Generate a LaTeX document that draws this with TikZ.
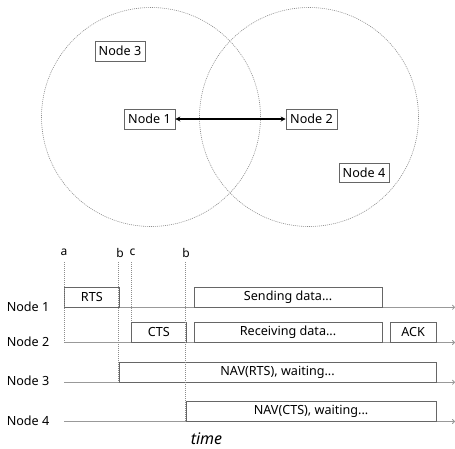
\documentclass[tikz,border=0pt]{standalone}
\usepackage{fontspec}
\setmainfont{Noto Sans}
\usetikzlibrary{arrows.meta}
\begin{document}
\begin{tikzpicture}[x=1pt,y=-1pt,
  font=\fontsize{12.6}{14}\selectfont,
  rangecircle/.style={circle, draw=black!45, dash pattern=on 1pt off 1pt, line width=0.6pt, minimum size=219pt, inner sep=0pt},
  nbox/.style={draw=black!60, fill=white, line width=0.6pt, inner sep=0pt, minimum height=20pt},
  tbox/.style={nbox, anchor=south west},
  axisline/.style={draw=black!40, line width=0.8pt, -{To[length=3pt,width=5pt]}},
  tickline/.style={draw=black!45, dash pattern=on 1pt off 1pt, line width=0.6pt},
  lab/.style={anchor=east, inner sep=0pt},
  tlab/.style={inner sep=0pt, font=\fontsize{12}{13}\selectfont}
]
\useasboundingbox (0,0) rectangle (455,448);
% range circles
\node[rangecircle] (c1) at (151,117) {};
\node[rangecircle] (c2) at (309,117) {};
% nodes
\node[nbox, minimum width=50pt] (n3) at (120,51) {Node 3};
\node[nbox, minimum width=51pt] (n1) at (149.5,119) {Node 1};
\node[nbox, minimum width=51pt] (n2) at (311.5,119) {Node 2};
\node[nbox, minimum width=50pt, minimum height=19pt] (n4) at (364,172.5) {Node 4};
\draw[{Stealth[length=5pt,width=5pt]}-{Stealth[length=5pt,width=5pt]}, line width=1.2pt] (n1) -- (n2);
% timeline axes
\coordinate (ax1s) at (64,307.3); \coordinate (ax1e) at (455,307.3);
\coordinate (ax2s) at (64,342.5); \coordinate (ax2e) at (455,342.5);
\coordinate (ax3s) at (64,382.3); \coordinate (ax3e) at (455,382.3);
\coordinate (ax4s) at (64,421.5); \coordinate (ax4e) at (455,421.5);
\draw[axisline] (ax1s) -- (ax1e);
\draw[axisline] (ax2s) -- (ax2e);
\draw[axisline] (ax3s) -- (ax3e);
\draw[axisline] (ax4s) -- (ax4e);
\node[lab] (l1) at (49.5,307) {Node 1};
\node[lab] (l2) at (49.5,341.5) {Node 2};
\node[lab] (l3) at (49.5,381) {Node 3};
\node[lab] (l4) at (49.5,420.5) {Node 4};
% boxes
\node[tbox, minimum width=55pt] (rts) at (ax1s) {RTS};
\node[tbox, minimum width=55pt] (cts) at (131,342.5) {CTS};
\node[tbox, minimum width=187.5pt] (send) at (194,307.3) {Sending data...};
\node[tbox, minimum width=187.5pt] (recv) at (194,342.5) {Receiving data...};
\node[tbox, minimum width=46.5pt] (ack) at (389.5,342.5) {ACK};
\node[tbox, minimum width=317.5pt] (navr) at (118.5,382.3) {NAV(RTS), waiting...};
\node[tbox, minimum width=250.5pt] (navc) at (185.5,421.5) {NAV(CTS), waiting...};
% time marks
\coordinate (ta) at (64,262);
\coordinate (tb1) at (118.5,262);
\coordinate (tc) at (131,262);
\coordinate (tb2) at (185.5,262);
\draw[tickline] (ta) -- (ax2s);
\draw[tickline] (tb1) -- (navr.south west);
\draw[tickline] (tc) -- (cts.north west);
\draw[tickline] (tb2) -- (navc.south west);
\node[tlab] (la) at (64,252.5) {a};
\node[tlab] (lb1) at (120,252.5) {b};
\node[tlab] (lc) at (132.5,252.5) {c};
\node[tlab] (lb2) at (186,252.5) {b};
\node[font=\itshape\fontsize{16}{18}\selectfont, inner sep=0pt] (time) at (206.5,438.5) {time};
\end{tikzpicture}
\end{document}
